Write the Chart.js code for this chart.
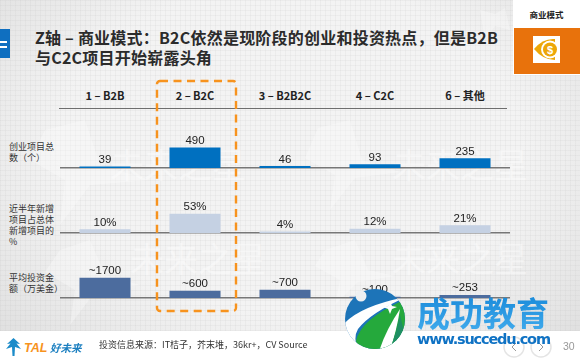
<!DOCTYPE html>
<html>
<head>
<meta charset="utf-8">
<script src="https://cdn.jsdelivr.net/npm/chart.js@4/dist/chart.umd.min.js"></script>
<style>
html, body { margin: 0; padding: 0; }
body { width: 580px; height: 362px; overflow: hidden; position: relative; background: #fff; font-family: "Noto Sans CJK SC", "Liberation Sans", sans-serif; color: #222; }
#bg { position: absolute; left: 0; top: 0; width: 580px; height: 331px;
  background:
    repeating-linear-gradient(0deg, rgba(190,190,190,.14) 0 1px, transparent 1px 5px),
    repeating-linear-gradient(90deg, rgba(190,190,190,.14) 0 1px, transparent 1px 5px),
    radial-gradient(ellipse 420px 300px at 50% 45%, #f3f3f3 55%, #dcdcdc 100%); }
.abs { position: absolute; white-space: nowrap; }
canvas { position: absolute; }
#title { left: 35px; top: 27px; font-size: 16px; font-weight: 700; line-height: 20px; color: #2b2b2b; letter-spacing: 0.22px; }
.head { top: 87px; width: 90px; text-align: center; font-size: 11px; font-weight: 700; line-height: 16px; }
.rowname { left: 9px; font-size: 9px; line-height: 11px; color: #333; }
#headline { left: 59px; top: 108px; width: 448px; height: 1px; }
</style>
</head>
<body>
<div id="bg"></div>

<svg class="abs" style="left:0;top:0" width="580" height="331" id="wm">
  <g fill="#fff" opacity=".3">
    <polygon points="45,130 85,120 100,165 150,180 90,185 60,225 65,180 30,160"/>
    <polygon points="318,128 350,120 362,160 400,172 355,178 330,210 335,175 305,158"/>
    <polygon points="60,250 90,240 105,275 140,285 95,292 70,325 75,290 45,272"/>
    <polygon points="325,250 355,240 368,270 395,276 358,282 335,305 340,280 315,266"/>
    <polygon points="480,10 495,14 505,8 510,30 495,26 485,40"/>
  </g>
  <g fill="#fff" opacity=".4" font-size="34" font-family="Noto Sans CJK SC">
    <text x="392" y="178">未来之星</text>
    <text x="110" y="178">未来之星</text>
    <text x="392" y="272">未来之星</text>
    <text x="130" y="272">未来之星</text>
  </g>
</svg>

<div class="abs" style="left:0;top:29px;width:10px;height:29px;background:#0f6fc0"></div>
<div class="abs" style="left:0;top:41px;width:7px;height:2px;background:#fff"></div>
<div class="abs" style="left:0;top:46px;width:7px;height:2px;background:#fff"></div>

<div class="abs" id="title">Z轴 – 商业模式：B2C依然是现阶段的创业和投资热点，但是B2B<br>与C2C项目开始崭露头角</div>

<div class="abs" style="left:513px;top:0;width:67px;height:75px;background:#fff"></div>
<div class="abs" style="left:513px;top:7px;width:67px;text-align:center;font-size:8.5px;font-weight:700;line-height:14px">商业模式</div>
<div class="abs" style="left:514px;top:28px;width:66px;height:46px;background:#e8720c"></div>
<svg class="abs" style="left:533px;top:36px" width="27" height="27">
  <rect width="27" height="27" fill="#fff"/>
  <path d="M1 13 Q10 2 22 3 L22 24 Q10 24 1 13Z" fill="#eda708"/>
  <circle cx="17" cy="13.5" r="9" fill="#fff"/>
  <circle cx="17" cy="13.5" r="7" fill="#eda708"/>
  <text x="17" y="17.5" text-anchor="middle" font-size="11" font-weight="700" fill="#fff" font-family="Liberation Sans">$</text>
</svg>

<div class="abs" id="headline" style="background:#6e6e6e"></div>
<div id="heads"></div>

<div class="abs rowname" style="top:141px">创业项目总<br>数（个）</div>
<div class="abs rowname" style="top:203px">近半年新增<br>项目占总体<br>新增项目的<br>%</div>
<div class="abs rowname" style="top:272px">平均投资金<br>额（万美金）</div>

<canvas id="chartProjetos" width="450" height="48" style="left:60px;top:128px"></canvas>
<canvas id="chartNovos" width="450" height="48" style="left:60px;top:193px"></canvas>
<canvas id="chartInvest" width="450" height="48" style="left:60px;top:258px"></canvas>

<svg class="abs" style="left:0;top:0" width="580" height="331">
  <rect x="157" y="81" width="79" height="230" rx="3" fill="none" stroke="#f7931e" stroke-width="2.4" stroke-dasharray="8 5.5"/>
</svg>

<svg class="abs" style="left:5px;top:337px" width="17" height="20">
  <polygon points="8.5,1 15,7 11.5,6.5 16,12 10,10 9.5,19 7.5,19 7,10 1,12 5.5,6.5 2,7" fill="#1b8bc9"/>
</svg>
<div class="abs" style="left:24px;top:340px;font:italic 700 12.5px 'Liberation Sans';color:#f7931e;line-height:16px">TAL</div>
<div class="abs" style="left:50px;top:340px;font-size:10.5px;font-weight:700;font-style:italic;color:#1b7fc0;line-height:16px">好未来</div>
<div class="abs" style="left:99px;top:337px;font-size:9px;line-height:16px;color:#333">投资信息来源：IT桔子，芥末堆，36kr+，CV Source</div>

<svg class="abs" style="left:500px;top:335px" width="60" height="25">
  <circle cx="14" cy="12" r="10" fill="#fff" stroke="#e4e4e4" stroke-width="1.5"/>
  <circle cx="41" cy="12" r="10" fill="#fff" stroke="#e4e4e4" stroke-width="1.5"/>
  <path d="M16 8 L12 12 L16 16 M39 8 L43 12 L39 16" fill="none" stroke="#999" stroke-width="1"/>
</svg>
<div class="abs" style="left:563px;top:338px;font:10.5px/16px 'Liberation Sans';color:#999">30</div>

<svg class="abs" style="left:340px;top:285px" width="240" height="77">
  <defs>
    <linearGradient id="gTexto" x1="0" y1="0" x2="0" y2="1">
      <stop offset="0" stop-color="#1284d6"/><stop offset="1" stop-color="#45aeee"/>
    </linearGradient>
    <clipPath id="disco"><circle cx="35" cy="34" r="30"/></clipPath>
  </defs>
  <g clip-path="url(#disco)">
    <rect width="70" height="70" fill="#1d74b8"/>
    <path d="M0 44 Q14 22 66 12 Q30 28 18 44 Q12 54 20 70 L6 70Z" fill="#fff"/>
    <path d="M16 56 Q20 34 66 14 L70 70 L20 70Z" fill="#25a93c"/>
    <path d="M38 70 Q44 48 60 24 Q56 50 48 70Z" fill="#fff"/>
    <path d="M48 70 Q56 50 60 30 L70 70Z" fill="#1f8f63"/>
  </g>
  <circle cx="21" cy="11" r="5.5" fill="#eef0f2"/>
  <polygon points="50,16 52,21 57,22 52,24 50,29 48,24 43,22 48,21" fill="#fff"/>
  <text x="77" y="41" font-size="33" font-weight="700" font-family="Noto Sans CJK SC" fill="url(#gTexto)">成功教育</text>
  <text x="77" y="59" font-size="14.5" font-weight="700" font-family="DejaVu Sans" fill="#0f72c4" textLength="134">www.succedu.com</text>
</svg>

<script>
const categorias = ['1 – B2B', '2 – B2C', '3 – B2B2C', '4 – C2C', '6 – 其他'];
const projetos = [39, 490, 46, 93, 235];
const projetosLabels = ['39', '490', '46', '93', '235'];
const novos = [10, 53, 4, 12, 21];
const novosLabels = ['10%', '53%', '4%', '12%', '21%'];
const investimento = [1700, 600, 700, 100, 253];
const investimentoLabels = ['~1700', '~600', '~700', '~100', '~253'];

// cabecalho das colunas
categorias.forEach(function (nome, i) {
    var div = document.createElement('div');
    div.className = 'abs head';
    div.style.left = (60 + i * 90) + 'px';
    div.textContent = nome;
    document.getElementById('heads').appendChild(div);
});

// escreve o valor em cima de cada barra
const rotuloBarras = {
    id: 'rotuloBarras',
    afterDatasetsDraw(chart) {
        var ctx = chart.ctx;
        var textos = chart.options.plugins.rotuloBarras.textos;
        ctx.save();
        ctx.font = '11.5px "Liberation Sans"';
        ctx.fillStyle = '#222';
        ctx.textAlign = 'center';
        ctx.textBaseline = 'bottom';
        chart.getDatasetMeta(0).data.forEach(function (barra, i) {
            ctx.fillText(textos[i], barra.x, barra.y - 1);
        });
        ctx.restore();
    }
};

function criarGrafico(id, valores, textos, maximo, cor) {
    return new Chart(document.getElementById(id), {
        type: 'bar',
        data: {
            labels: categorias,
            datasets: [{
                data: valores,
                backgroundColor: cor,
                categoryPercentage: 1,
                barPercentage: 0.567
            }]
        },
        options: {
            responsive: false,
            animation: false,
            layout: { padding: 0 },
            scales: {
                x: {
                    grid: { display: false },
                    ticks: { display: false },
                    border: { color: '#777', width: 1.5 }
                },
                y: { display: false, min: 0, max: maximo }
            },
            plugins: {
                legend: { display: false },
                tooltip: { enabled: false },
                rotuloBarras: { textos: textos }
            }
        },
        plugins: [rotuloBarras]
    });
}

criarGrafico('chartProjetos', projetos, projetosLabels, 960, '#0070c0');
criarGrafico('chartNovos', novos, novosLabels, 110, '#c5d1e3');
criarGrafico('chartInvest', investimento, investimentoLabels, 3350, '#4c6c9e');
</script>
</body>
</html>
